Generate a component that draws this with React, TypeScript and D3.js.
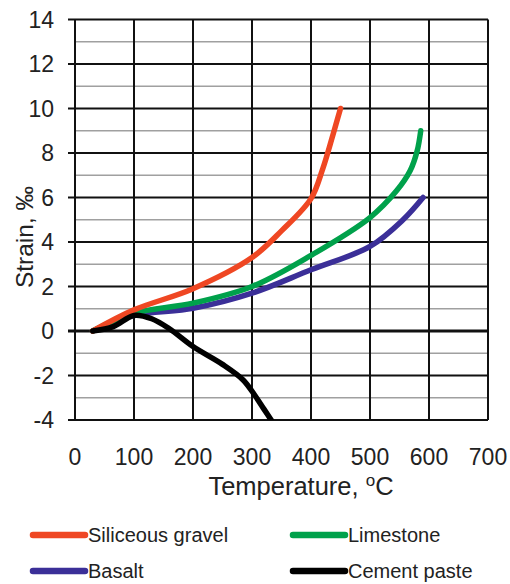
import React from "react";
import * as d3 from "d3";

const xTicks = [0, 100, 200, 300, 400, 500, 600, 700];
const yTicks = [-4, -2, 0, 2, 4, 6, 8, 10, 12, 14];
const yMinor = [-3, -1, 1, 3, 5, 7, 9, 11, 13];

const siliceousT = [30, 100, 200, 300, 350, 400, 420, 437, 450];
const siliceousS = [0, 0.95, 1.9, 3.3, 4.5, 5.95, 7.3, 8.8, 10.0];

const limestoneT = [30, 100, 200, 300, 400, 500, 545, 568, 580, 586];
const limestoneS = [0, 0.8, 1.25, 2.0, 3.4, 5.1, 6.3, 7.2, 8.1, 9.0];

const basaltT = [30, 100, 200, 300, 400, 500, 556, 590];
const basaltS = [0, 0.7, 1.02, 1.7, 2.75, 3.8, 5.0, 6.0];

const cementT = [30, 65, 100, 130, 160, 200, 250, 285, 305, 320, 335];
const cementS = [0, 0.2, 0.7, 0.55, 0.1, -0.7, -1.5, -2.2, -2.9, -3.5, -4.1];

const seriesNames = ["Siliceous gravel", "Limestone", "Basalt", "Cement paste"];
const seriesColors = ["#ef4723", "#00a14b", "#3b2f98", "#000000"];

const FONT = "'Liberation Sans', Arial, sans-serif";

export default function App() {
  const x = d3.scaleLinear().domain([0, 700]).range([75, 488]);
  const y = d3.scaleLinear().domain([-4, 14]).range([420, 19.5]);
  const line = d3
    .line<[number, number]>()
    .x((d) => x(d[0]))
    .y((d) => y(d[1]))
    .curve(d3.curveCatmullRom.alpha(0.5));
  const zip = (a: number[], b: number[]) => a.map((v, i) => [v, b[i]] as [number, number]);
  const data = [
    zip(siliceousT, siliceousS),
    zip(limestoneT, limestoneS),
    zip(basaltT, basaltS),
    zip(cementT, cementS),
  ];
  const drawOrder = [2, 1, 0, 3];
  const [x0, x1] = x.range();
  const [yb, yt] = y.range();

  return (
    <svg
      width={510}
      height={584}
      style={{ position: "absolute", left: 0, top: 0, background: "#fff" }}
      fontFamily={FONT}
    >
      <defs>
        <clipPath id="plot">
          <rect x={x0} y={yt} width={x1 - x0} height={yb - yt} />
        </clipPath>
      </defs>
      {yMinor.map((v) => (
        <line key={"m" + v} x1={x0} x2={x1} y1={y(v)} y2={y(v)} stroke="#a0a0a0" strokeWidth={1.6} />
      ))}
      {xTicks.map((v) => (
        <line key={"vx" + v} x1={x(v)} x2={x(v)} y1={yt} y2={yb} stroke="#111" strokeWidth={2} />
      ))}
      {yTicks.map((v) => (
        <line
          key={"hy" + v}
          x1={x0 - 7}
          x2={x1}
          y1={y(v)}
          y2={y(v)}
          stroke="#111"
          strokeWidth={v === 0 ? 3 : 2}
        />
      ))}
      <g clipPath="url(#plot)">
        {drawOrder.map((i) => (
          <path
            key={"s" + i}
            d={line(data[i]) || ""}
            fill="none"
            stroke={seriesColors[i]}
            strokeWidth={5.5}
            strokeLinecap="round"
            strokeLinejoin="round"
          />
        ))}
      </g>
      {yTicks.map((v) => (
        <text key={"ty" + v} x={54} y={y(v)} dy="0.36em" textAnchor="end" fontSize={23} fill="#222">
          {v}
        </text>
      ))}
      {xTicks.map((v) => (
        <text key={"tx" + v} x={x(v)} y={465} textAnchor="middle" fontSize={23} fill="#222">
          {v}
        </text>
      ))}
      <text x={301} y={495} textAnchor="middle" fontSize={25.5} fill="#222">
        Temperature, <tspan fontSize={17} dy={-9}>o</tspan>
        <tspan dy={9}>C</tspan>
      </text>
      <text
        transform={`translate(33,237) rotate(-90)`}
        textAnchor="middle"
        fontSize={24.5}
        fill="#222"
      >
        Strain, ‰
      </text>
      {seriesNames.map((name, i) => {
        const col = i % 2;
        const row = Math.floor(i / 2);
        const lx = col === 0 ? 33 : 293;
        const ly = row === 0 ? 535 : 571;
        return (
          <g key={"lg" + i}>
            <line
              x1={lx}
              x2={lx + 52}
              y1={ly}
              y2={ly}
              stroke={seriesColors[i]}
              strokeWidth={6.5}
              strokeLinecap="round"
            />
            <text x={lx + 55} y={ly} dy="0.36em" fontSize={20} fill="#222">
              {name}
            </text>
          </g>
        );
      })}
    </svg>
  );
}
